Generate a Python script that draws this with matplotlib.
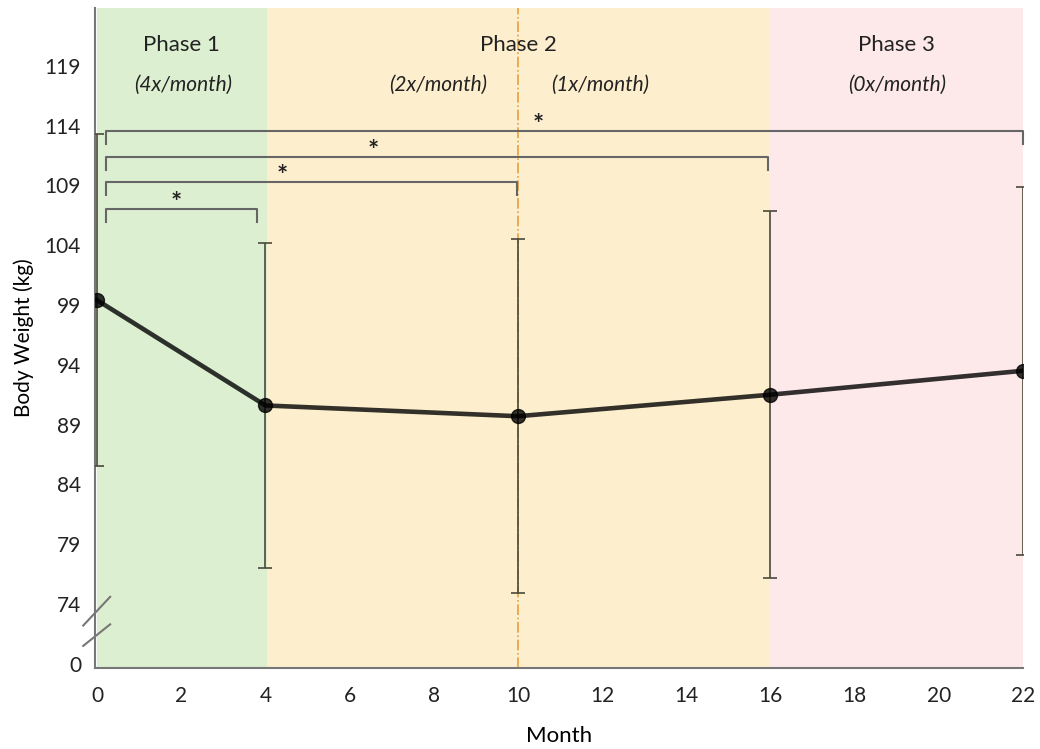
import numpy as np
import matplotlib
matplotlib.use('Agg')
import matplotlib.pyplot as plt

# data
months = [0, 4, 10, 16, 22]
weight = [99.4, 90.6, 89.7, 91.5, 93.5]
err = [13.9, 13.6, 14.8, 15.35, 15.4]

yticks = [69, 74, 79, 84, 89, 94, 99, 104, 109, 114, 119]
ytick_labels = ['0', '74', '79', '84', '89', '94', '99', '104', '109', '114', '119']
xticks = list(range(0, 23, 2))

phases = [(0, 4.03, '#dcefd1'), (4.03, 16, '#fdeece'), (16, 22, '#fde9e9')]
phase_titles = [(2, 'Phase 1'), (10, 'Phase 2'), (19, 'Phase 3')]
freq_labels = [(2.05, '(4x/month)'), (8.1, '(2x/month)'), (11.95, '(1x/month)'), (19, '(0x/month)')]

# significance brackets: (start, end, height, star x)
brackets = [(0.2, 3.8, 107.0, 1.88), (0.2, 9.98, 109.3, 4.39),
            (0.2, 15.94, 111.4, 6.55), (0.2, 22.0, 113.55, 10.49)]

plt.rcParams['font.family'] = ['Lato', 'DejaVu Sans']

fig = plt.figure(figsize=(10.4, 7.49), dpi=100)
ax = fig.add_axes([95/1040, 81/749, 928/1040, 660/749])
ax.set_xlim(-0.05, 22.0)
ax.set_ylim(68.65, 123.83)

for x0, x1, c in phases:
    ax.axvspan(x0, x1, color=c, lw=0, zorder=0)
ax.axvline(10, color='#e6a040', lw=1.2, ls='-.', zorder=1)

for x, t in phase_titles:
    ax.text(x, 120.7, t, ha='center', va='center', fontsize=16, color='#222222')
for x, t in freq_labels:
    ax.text(x, 117.4, t, ha='center', va='center', fontsize=15, style='italic', color='#222222')

drop = 1.1
for x0, x1, h, sx in brackets:
    ax.plot([x0, x0, x1, x1], [h - drop, h, h, h - drop], color='#666666', lw=1.5,
            solid_joinstyle='round', zorder=2, clip_on=False)
    ax.text(sx, h + 0.5, '*', ha='center', va='center', fontsize=19, fontweight='bold', color='#222222')

ax.errorbar(months, weight, yerr=err, fmt='none', ecolor='#4a4a3a', elinewidth=1.2,
            capsize=5, capthick=1.2, zorder=3)
ax.plot(months, weight, color='black', alpha=0.8, lw=3.3, marker='o', ms=10, zorder=4)

ax.set_xticks(xticks)
ax.set_yticks(yticks)
ax.set_yticklabels(ytick_labels)
ax.tick_params(length=0, labelsize=15, colors='#222222', pad=10)
ax.tick_params(axis='x', pad=13)

for s in ['top', 'right']:
    ax.spines[s].set_visible(False)
for s in ['left', 'bottom']:
    ax.spines[s].set_color('#777777')
    ax.spines[s].set_linewidth(1.5)

# axis break marks
for y0, y1 in [(72.2, 74.6), (70.5, 72.3)]:
    ax.plot([-0.33, 0.31], [y0, y1], color='#777777', lw=1.5, clip_on=False, zorder=5)

ax.set_xlabel('Month', fontsize=16, labelpad=14)
ax.set_ylabel('Body Weight (kg)', fontsize=15, labelpad=8)

fig.savefig('out.png', dpi=100)
